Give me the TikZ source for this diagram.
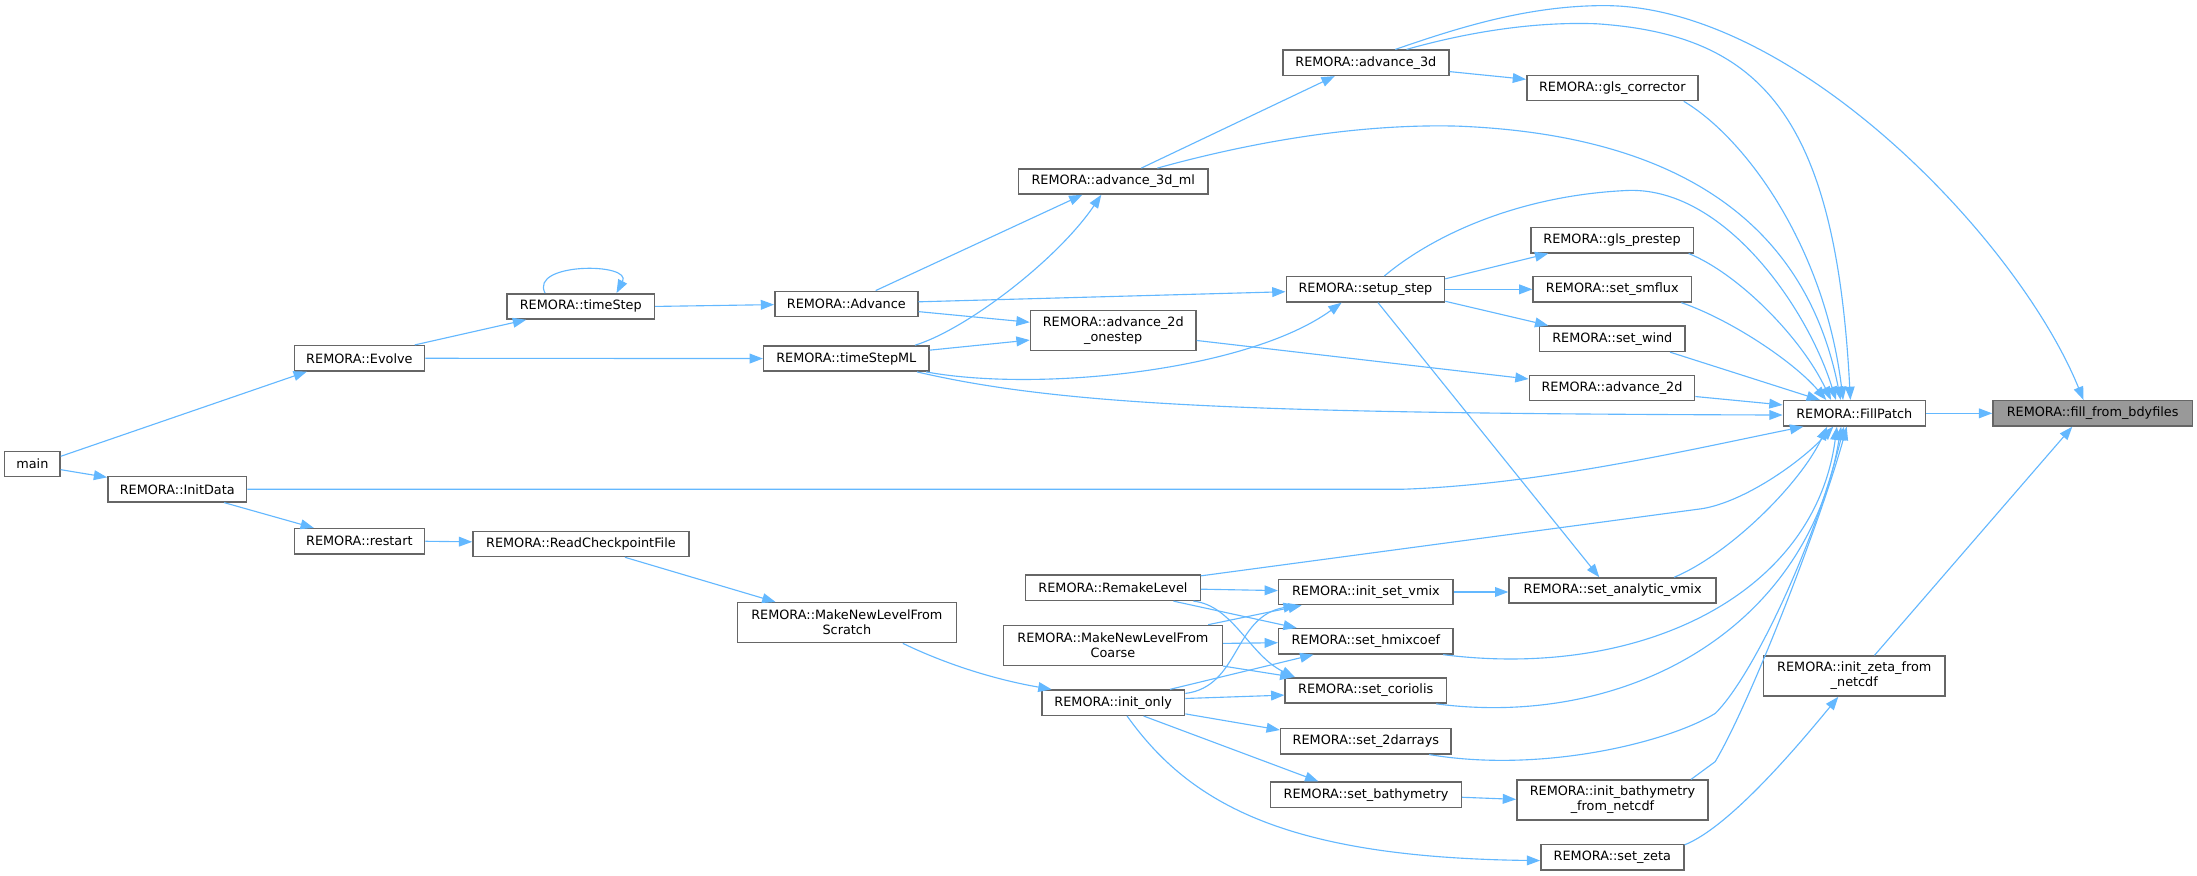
\documentclass[tikz,border=0pt]{standalone}
\usepackage{fontspec}
\setmainfont{DejaVu Sans}
\usetikzlibrary{arrows.meta,calc}
\definecolor{edgeblue}{HTML}{63B8FF}
\definecolor{boxgray}{HTML}{666666}
\definecolor{fillgray}{HTML}{999999}
\begin{document}
\begin{tikzpicture}[x=1pt,y=-1pt,
  fn/.style={draw=boxgray, line width=1.05pt, fill=white, rectangle, inner sep=0pt,
    minimum height=18pt, font=\fontsize{9.15}{10.7}\selectfont, align=center},
  fntwo/.style={fn, minimum height=28.5pt},
  e/.style={draw=edgeblue, line width=0.8pt, -{Triangle[length=9.5pt,width=7pt]}},
]
\fill[white] (0,0) rectangle (1568,624.5);
\useasboundingbox (0,0) rectangle (1568,624.5);

% nodes
\node[fn, minimum width=39.4pt] (main) at (23.1,331.2) {main};
\node[fn, minimum width=99pt] (InitData) at (126.5,349.2) {REMORA::InitData};
\node[fn, minimum width=93pt] (restart) at (256.5,386.3) {REMORA::restart};
\node[fn, minimum width=154.2pt] (RCF) at (414.6,388.2) {REMORA::ReadCheckpointFile};
\node[fn, minimum width=93pt] (Evolve) at (256.5,255.7) {REMORA::Evolve};
\node[fn, minimum width=105pt] (timeStep) at (414.5,218.7) {REMORA::timeStep};
\node[fn, minimum width=102pt] (Advance) at (604,216.9) {REMORA::Advance};
\node[fn, minimum width=118pt] (timeStepML) at (604,255.9) {REMORA::timeStepML};
\node[fn, minimum width=135pt] (a3dml) at (794.5,129.5) {REMORA::advance\_3d\_ml};
\node[fn, minimum width=118.4pt] (a3d) at (974.8,44.8) {REMORA::advance\_3d};
\node[fntwo, minimum width=118.2pt] (a2dos) at (794.5,236) {REMORA::advance\_2d\\\_onestep};
\node[fn, minimum width=113pt] (setup) at (974.5,206.5) {REMORA::setup\_step};
\node[fn, minimum width=122pt] (glscorr) at (1150.7,62.8) {REMORA::gls\_corrector};
\node[fn, minimum width=116pt] (glspre) at (1150.5,171.4) {REMORA::gls\_prestep};
\node[fn, minimum width=113pt] (smflux) at (1150.7,206.5) {REMORA::set\_smflux};
\node[fn, minimum width=104pt] (wind) at (1150.7,241.8) {REMORA::set\_wind};
\node[fn, minimum width=118pt] (a2d) at (1150.5,277) {REMORA::advance\_2d};
\node[fn, minimum width=101.3pt] (FillPatch) at (1323.4,295) {REMORA::FillPatch};
\node[fn, fill=fillgray, minimum width=142.3pt] (ffb) at (1493.5,295) {REMORA::fill\_from\_bdyfiles};
\node[fn, minimum width=124.6pt] (Remake) at (794.3,419.5) {REMORA::RemakeLevel};
\node[fntwo, minimum width=156.3pt] (MNLFS) at (604.4,444.4) {REMORA::MakeNewLevelFrom\\Scratch};
\node[fntwo, minimum width=156.2pt] (MNLFC) at (794.3,460.6) {REMORA::MakeNewLevelFrom\\Coarse};
\node[fn, minimum width=102pt] (initonly) at (794.5,501.5) {REMORA::init\_only};
\node[fn, minimum width=124.5pt] (isv) at (974.8,422.5) {REMORA::init\_set\_vmix};
\node[fn, minimum width=124.5pt] (hmix) at (974.8,457.7) {REMORA::set\_hmixcoef};
\node[fn, minimum width=115pt] (cor) at (974.7,492.8) {REMORA::set\_coriolis};
\node[fn, minimum width=121.7pt] (twod) at (974.8,529) {REMORA::set\_2darrays};
\node[fn, minimum width=136pt] (bathy) at (974.9,567.2) {REMORA::set\_bathymetry};
\node[fn, minimum width=147.8pt] (sav) at (1150.9,421.5) {REMORA::set\_analytic\_vmix};
\node[fntwo, minimum width=129.6pt] (izeta) at (1323.4,482.5) {REMORA::init\_zeta\_from\\\_netcdf};
\node[fntwo, minimum width=136.5pt] (ibathy) at (1150.8,571) {REMORA::init\_bathymetry\\\_from\_netcdf};
\node[fn, minimum width=102pt] (zeta) at (1150.7,611.8) {REMORA::set\_zeta};

% edges
\draw[e] ($(main.north east)+(0,4)$) -- ($(Evolve.south)+(-37.5,0)$);
\draw[e] ($(main.east)+(0,4)$) -- ($(InitData.north west)+(0,1)$);
\draw[e] ($(Evolve.north)+(39.5,0)$) -- ($(timeStep.south)+(-39,0)$);
\draw[e] (Evolve.east) -- (timeStepML.west);
\draw[e] ($(timeStep.north)+(-25.5,0)$) .. controls ($(timeStep.north)+(-37,-22)$) and ($(timeStep.north)+(37,-22)$) .. ($(timeStep.north)+(25.5,0)$);
\draw[e] (timeStep.east) -- ($(Advance.west)+(0,0.5)$);
\draw[e] ($(InitData.south)+(33.5,0)$) -- ($(restart.north)+(-32.5,0)$);
\draw[e] (restart.east) -- ($(RCF.west)+(0,-1.5)$);
\draw[e] ($(RCF.south)+(31.4,0)$) -- ($(MNLFS.north)+(-50.9,0)$);
\draw[e] ($(MNLFS.south)+(40,0)$) .. controls (675,474) and (710,485) .. ($(initonly.north)+(-44,0)$);
\draw[e] ($(Advance.north)+(21,0)$) -- ($(a3dml.south)+(-22,0)$);
\draw[e] ($(Advance.east)+(0,-1.5)$) -- ($(setup.west)+(0,1.7)$);
\draw[e] ($(Advance.east)+(0,5.5)$) -- ($(a2dos.west)+(0,-6)$);
\draw[e] ($(timeStepML.north)+(49,0)$) .. controls (690,235) and (755,185) .. ($(a3dml.south)+(-8.5,0)$);
\draw[e] ($(timeStepML.east)+(0,-6)$) -- ($(a2dos.west)+(0,6.7)$);
\draw[e] ($(timeStepML.south)+(57,0)$) .. controls (740,280) and (890,265) .. ($(setup.south)+(-17,0)$);
\draw[e] ($(timeStepML.south)+(50.5,0)$) .. controls (760,290) and (900,295) .. ($(FillPatch.west)+(0,1.2)$);
\draw[e] (InitData.east) -- (1000,349.2) .. controls (1100,346) and (1210,320) .. ($(FillPatch.south)+(-36.4,0)$);
\draw[e] ($(a2d.east)+(0,6)$) -- ($(FillPatch.west)+(0,-6)$);
\draw[e] (FillPatch.east) -- (ffb.west);
\draw[e] ($(izeta.north)+(14.4,0)$) -- ($(ffb.south)+(-14.5,0)$);
\draw[e] ($(zeta.north east)+(0,0.7)$) .. controls (1235,590) and (1285,530) .. ($(izeta.south)+(-11.4,0)$);
\draw[e] ($(setup.south)+(9,0)$) -- ($(sav.north)+(-9.5,0)$);
\draw[e] (isv.east) -- ($(sav.west)+(0,1)$);
\draw[e] ($(bathy.east)+(0,1.8)$) -- ($(ibathy.west)+(0,-0.5)$);
\draw[e] ($(a2dos.east)+(0,7)$) -- ($(a2d.west)+(0,-6.5)$);
\draw[e] ($(a3d.east)+(0,6.3)$) -- ($(glscorr.west)+(0,-6.2)$);
\draw[e] ($(setup.north east)+(0,2)$) -- ($(glspre.south)+(-45.5,0)$);
\draw[e] (setup.east) -- (smflux.west);
\draw[e] ($(setup.south east)+(0,-1)$) -- ($(wind.north)+(-45.7,0)$);
\draw[e] ($(a3dml.north)+(20,0)$) -- ($(a3d.south)+(-22.2,0)$);
% to FillPatch / ffb from above
\draw[e] ($(a3d.north)+(21,0)$) .. controls (1040,20) and (1090,4) .. (1145,4) .. controls (1280,4) and (1440,170) .. ($(ffb.north)+(-6.5,0)$);
\draw[e] ($(a3d.north)+(29,0)$) .. controls (1040,25) and (1090,15) .. (1140,17) .. controls (1255,25) and (1310,80) .. ($(FillPatch.north)+(-2.8,0)$);
\draw[e] ($(glscorr.south)+(51,0)$) .. controls (1245,98) and (1302,175) .. ($(FillPatch.north)+(-8,0)$);
\draw[e] ($(a3dml.north)+(31.5,0)$) .. controls (880,105) and (960,88) .. (1040,90) .. controls (1170,95) and (1285,140) .. ($(FillPatch.north)+(-9.7,0)$);
\draw[e] ($(setup.north)+(13.5,0)$) .. controls (1020,170) and (1080,140) .. (1160,136) .. controls (1230,132) and (1290,220) .. ($(FillPatch.north)+(-13.1,0)$);
\draw[e] ($(glspre.south)+(54.7,0)$) .. controls (1240,195) and (1285,240) .. ($(FillPatch.north)+(-16.6,0)$);
\draw[e] ($(smflux.south)+(49.3,0)$) .. controls (1235,228) and (1280,258) .. ($(FillPatch.north)+(-20,0)$);
\draw[e] ($(wind.south)+(41.2,0)$) -- ($(FillPatch.north)+(-24.5,0)$);
% to FillPatch from below
\draw[e] ($(Remake.north east)+(0,1)$) -- (1215,363) .. controls (1245,358) and (1285,330) .. ($(FillPatch.south)+(-15,0)$);
\draw[e] ($(sav.north)+(44,0)$) .. controls (1235,395) and (1285,345) .. ($(FillPatch.south)+(-19.4,0)$);
\draw[e] ($(hmix.south)+(55.2,0)$) .. controls (1170,485) and (1295,425) .. ($(FillPatch.south)+(-12.4,0)$);
\draw[e] ($(cor.south)+(50.3,0)$) .. controls (1160,520) and (1290,450) .. ($(FillPatch.south)+(-9.4,0)$);
\draw[e] ($(twod.south)+(45.2,0)$) .. controls (1100,552) and (1190,530) .. (1224.1,509.2) .. controls (1250,484) and (1295,390) .. ($(FillPatch.south)+(-7.4,0)$);
\draw[e] ($(ibathy.north)+(56.1,0)$) -- (1224.1,543.6) .. controls (1250,500) and (1300,370) .. ($(FillPatch.south)+(-5.4,0)$);
% level-creation edges
\draw[e] ($(Remake.east)+(0,1)$) -- ($(isv.west)+(0,-1)$);
\draw[e] ($(Remake.south)+(43.2,0)$) -- ($(hmix.north)+(-49.3,0)$);
\draw[e] ($(Remake.south)+(57.4,0)$) .. controls (880,432) and (892,468) .. ($(cor.north)+(-50.5,0)$);
\draw[e] ($(MNLFC.north)+(68,0)$) -- ($(isv.south)+(-45.8,0)$);
\draw[e] ($(MNLFC.east)+(0,-1.4)$) -- ($(hmix.west)+(0,1)$);
\draw[e] (MNLFC.south east) -- ($(cor.north)+(-51.6,0)$);
\draw[e] ($(initonly.east)+(0,-6.6)$) .. controls (885,490) and (880,440) .. ($(isv.south)+(-49.3,0)$);
\draw[e] ($(initonly.north)+(40.5,0)$) -- ($(hmix.south)+(-37.4,0)$);
\draw[e] ($(initonly.east)+(0,-3)$) -- ($(cor.west)+(0,3.3)$);
\draw[e] ($(initonly.east)+(0,8)$) -- ($(twod.west)+(0,-8)$);
\draw[e] ($(initonly.south)+(21.7,0)$) -- ($(bathy.north)+(-34,0)$);
\draw[e] ($(initonly.south)+(9.9,0)$) .. controls (850,575) and (920,612) .. ($(zeta.west)+(0,2.4)$);
\end{tikzpicture}
\end{document}
